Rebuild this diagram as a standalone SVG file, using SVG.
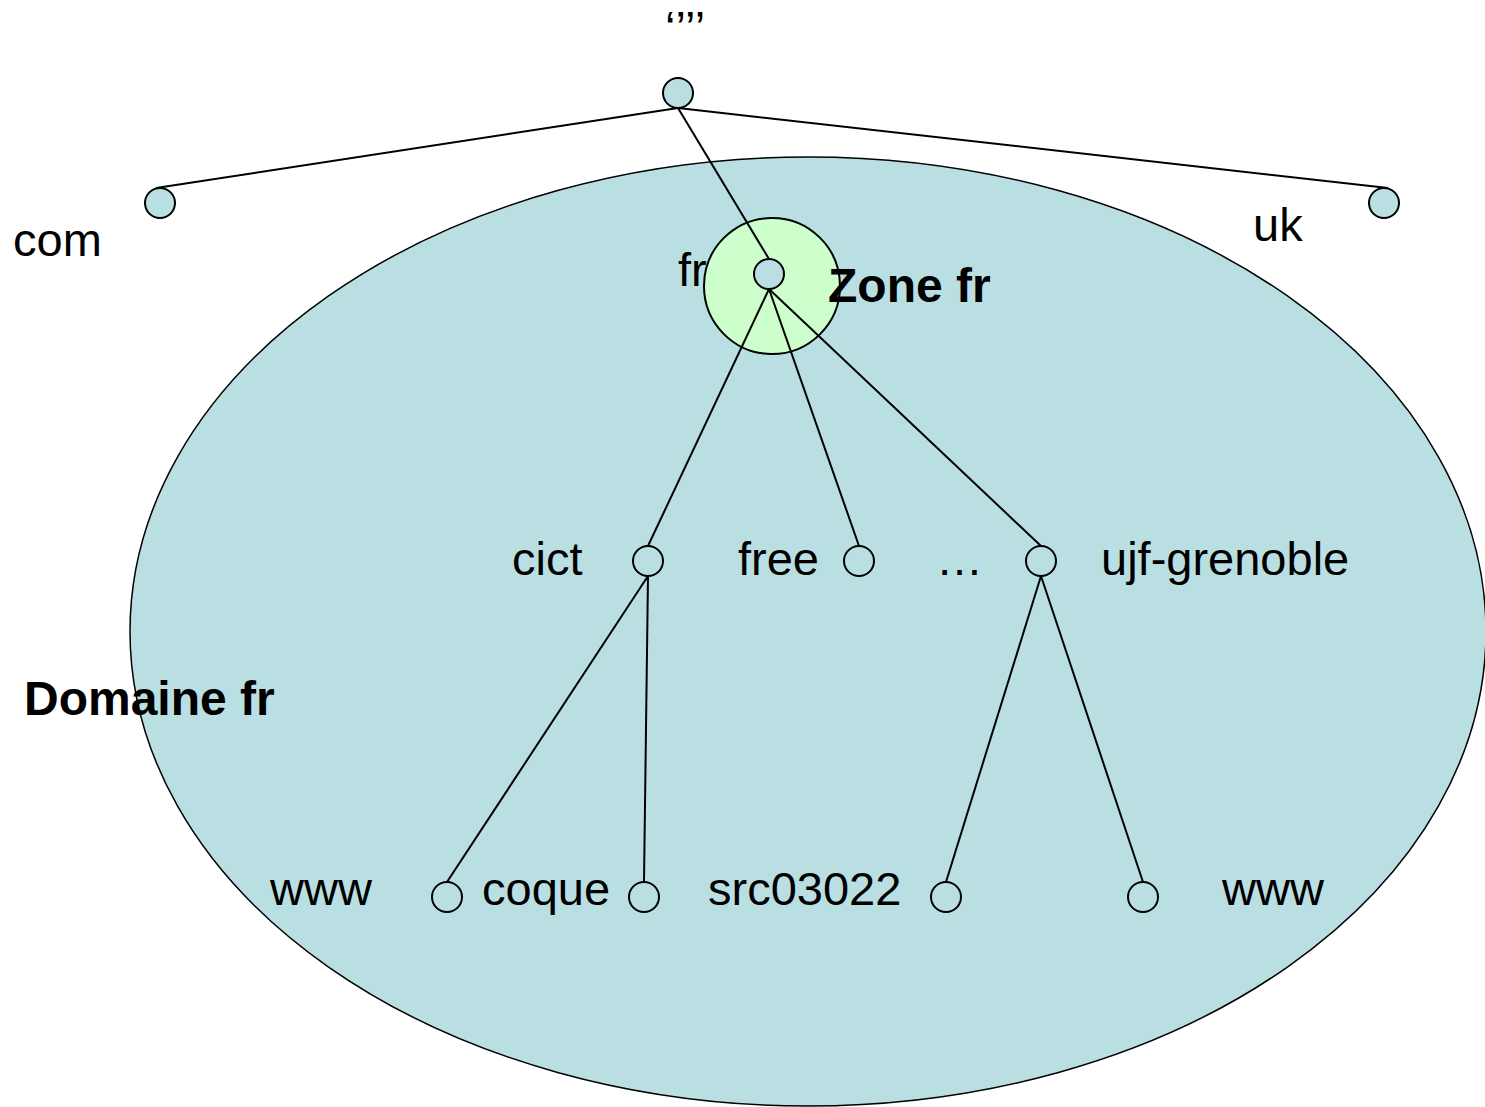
<svg xmlns="http://www.w3.org/2000/svg" width="1485" height="1107" viewBox="0 0 1485 1107">
  <style>
    .lbl { font-family: "Liberation Sans", Arial, sans-serif; font-size: 47px; fill: #000; }
    .bold { font-weight: bold; font-size: 48px; }
    .node { fill: #b9dfe3; stroke: #000; stroke-width: 2; }
    .edge { stroke: #000; stroke-width: 2; fill: none; }
  </style>
  <rect width="1485" height="1107" fill="#fff"/>

  <!-- domain area -->
  <g id="domaine-fr">
    <ellipse cx="808" cy="631.5" rx="678" ry="474.5" fill="#b9dfe3" stroke="#000" stroke-width="1.5"/>
    <text class="lbl bold" x="24" y="715">Domaine fr</text>
  </g>

  <text class="lbl" x="678" y="286">fr</text>

  <!-- zone of the fr server -->
  <g id="zone-fr">
    <circle cx="772" cy="286" r="68" fill="#ccffcc" stroke="#000" stroke-width="2"/>
  </g>

  <!-- tree edges -->
  <g id="connectors" class="edge">
    <line x1="678" y1="108" x2="156" y2="188"/>
    <line x1="678" y1="108" x2="1388" y2="188"/>
    <line x1="678" y1="108" x2="769" y2="259"/>
    <line x1="769" y1="289" x2="648" y2="546"/>
    <line x1="769" y1="289" x2="859" y2="546"/>
    <line x1="769" y1="289" x2="1041" y2="546"/>
    <line x1="648" y1="576" x2="447" y2="882"/>
    <line x1="648" y1="576" x2="644" y2="882"/>
    <line x1="1041" y1="576" x2="946" y2="882"/>
    <line x1="1041" y1="576" x2="1143" y2="882"/>
  </g>

  <!-- nodes -->
  <g id="root"><circle class="node" cx="678" cy="93" r="15"/><text class="lbl" x="665" y="44">‘’’’</text></g>
  <g id="com"><circle class="node" cx="160" cy="203" r="15"/><text class="lbl" x="13" y="256">com</text></g>
  <g id="uk"><circle class="node" cx="1384" cy="203" r="15"/><text class="lbl" x="1253" y="241">uk</text></g>
  <g id="fr"><circle class="node" cx="769" cy="274" r="15"/></g>
  <g id="cict"><circle class="node" cx="648" cy="561" r="15"/><text class="lbl" x="512" y="575">cict</text></g>
  <g id="free"><circle class="node" cx="859" cy="561" r="15"/><text class="lbl" x="738" y="575">free</text></g>
  <g id="ellipsis"><text class="lbl" x="936" y="575">…</text></g>
  <g id="ujf-grenoble"><circle class="node" cx="1041" cy="561" r="15"/><text class="lbl" x="1101" y="575">ujf-grenoble</text></g>
  <g id="www-cict"><circle class="node" cx="447" cy="897" r="15"/><text class="lbl" x="270" y="905">www</text></g>
  <g id="coque"><circle class="node" cx="644" cy="897" r="15"/><text class="lbl" x="482" y="905">coque</text></g>
  <g id="src03022"><circle class="node" cx="946" cy="897" r="15"/><text class="lbl" x="708" y="905">src03022</text></g>
  <g id="www-ujf"><circle class="node" cx="1143" cy="897" r="15"/><text class="lbl" x="1222" y="905">www</text></g>

  <text class="lbl bold" x="828" y="302">Zone fr</text>
</svg>
